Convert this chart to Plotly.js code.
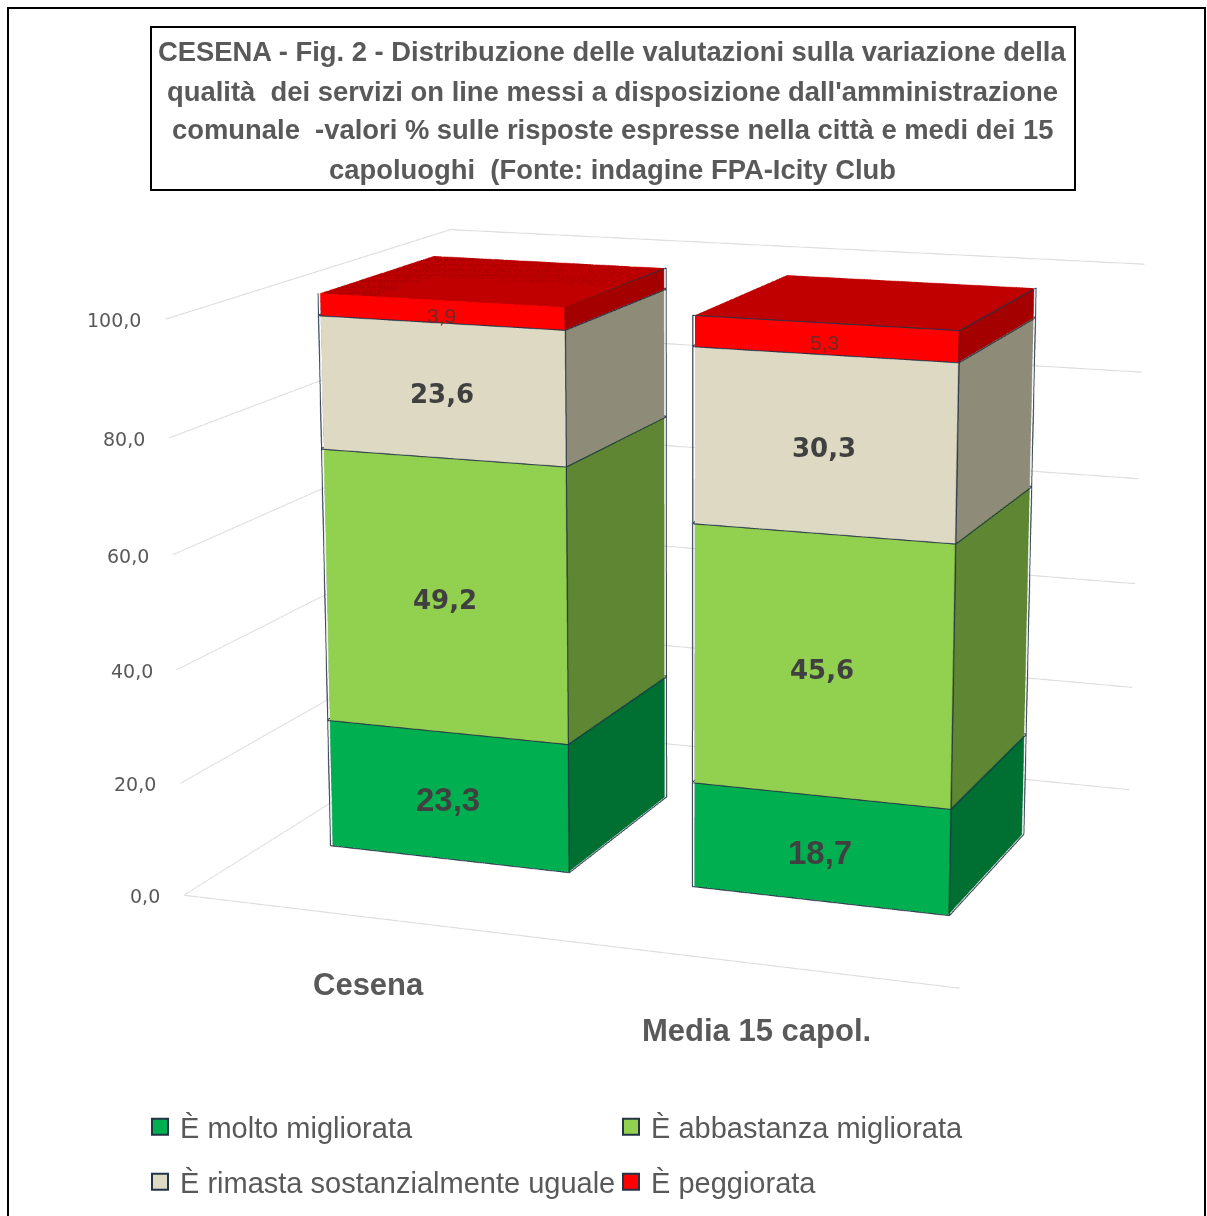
<!DOCTYPE html>
<html>
<head>
<meta charset="utf-8">
<script src="https://cdn.plot.ly/plotly-3.0.1.min.js"></script>
<style>
  html, body { margin: 0; padding: 0; width: 1207px; height: 1216px; overflow: hidden; background: #ffffff; }
  /* The figure is drawn larger than the page so the 3D camera sits far away (weak perspective);
     the page shows its central part. */
  #chart { position: absolute; left: -821px; top: -930px; width: 3000px; height: 3000px; }
</style>
</head>
<body>
<div id="chart"></div>
<script>
// ---- data -------------------------------------------------------------
const categories = ['Cesena', 'Media 15 capol.'];
const seriesNames = ['È molto migliorata', 'È abbastanza migliorata', 'È rimasta sostanzialmente uguale', 'È peggiorata'];
const molto = [23.3, 18.7];
const abbastanza = [49.2, 45.6];
const uguale = [23.6, 30.3];
const peggiorata = [3.9, 5.3];
const valueTicks = [0, 20, 40, 60, 80, 100];
const titleLines = [
  'CESENA - Fig. 2 - Distribuzione delle valutazioni sulla variazione della',
  'qualità\u00a0 dei servizi on line messi a disposizione dall\'amministrazione',
  'comunale\u00a0 -valori % sulle risposte espresse nella città e medi dei 15',
  'capoluoghi\u00a0 (Fonte: indagine FPA-Icity Club'
];

// ---- styling ----------------------------------------------------------
const series = [molto, abbastanza, uguale, peggiorata];
const palette = [
  { front: '#00b050', side: '#006f32', top: '#00853c' },
  { front: '#92d050', side: '#5f8733', top: '#76a840' },
  { front: '#ddd9c3', side: '#8e8b79', top: '#b4b09d' },
  { front: '#ff0000', side: '#a50000', top: '#c00000' }
];
const SANS = 'Liberation Sans, Arial, sans-serif';
const WIDE = 'DejaVu Sans, Verdana, sans-serif';
const GREY = '#595959';
const EDGE = '#243447';

const HALF_W = 0.33;            // half bar width, in category units
const DEPTH_RANGE = [0.2, 1.8]; // floor depth
const DEPTH_MID = 1.0;          // bars sit in the middle of the floor depth
const HALF_D = 0.33;            // half bar depth

// figure geometry (the page is a window onto a larger figure)
const FIG_W = 3000, FIG_H = 3000, OFF_X = 821, OFF_Y = 930;
const px = X => (X + OFF_X) / FIG_W;
const py = Y => 1 - (Y + OFF_Y) / FIG_H;

function baseOf(si, ci) {
  let b = 0;
  for (let k = 0; k < si; k++) b += series[k][ci];
  return b;
}

// one mesh3d per series: a box for each category, with per-face colours
function seriesMesh(si) {
  const xs = [], ys = [], zs = [], I = [], J = [], K = [], fc = [];
  const pal = palette[si];
  categories.forEach((c, ci) => {
    const z0 = baseOf(si, ci), z1 = z0 + series[si][ci];
    const x0 = ci - HALF_W, x1 = ci + HALF_W, y0 = DEPTH_MID - HALF_D, y1 = DEPTH_MID + HALF_D;
    const o = xs.length;
    [[x0, y0, z0], [x1, y0, z0], [x1, y1, z0], [x0, y1, z0],
     [x0, y0, z1], [x1, y0, z1], [x1, y1, z1], [x0, y1, z1]].forEach(p => {
      xs.push(p[0]); ys.push(p[1]); zs.push(p[2]);
    });
    const faces = [
      [0, 1, 5, 'front'], [0, 5, 4, 'front'],
      [1, 2, 6, 'side'], [1, 6, 5, 'side'],
      [4, 5, 6, 'top'], [4, 6, 7, 'top'],
      [0, 3, 7, 'side'], [0, 7, 4, 'side'],
      [3, 2, 6, 'side'], [3, 6, 7, 'side'],
      [0, 1, 2, 'top'], [0, 2, 3, 'top']
    ];
    faces.forEach(f => { I.push(o + f[0]); J.push(o + f[1]); K.push(o + f[2]); fc.push(pal[f[3]]); });
  });
  return {
    type: 'mesh3d', x: xs, y: ys, z: zs, i: I, j: J, k: K,
    facecolor: fc, flatshading: true,
    lighting: { ambient: 1, diffuse: 0, specular: 0, roughness: 1, fresnel: 0 },
    hoverinfo: 'skip', showlegend: false, showscale: false, name: seriesNames[si]
  };
}

// dark outline of every visible box edge
function edgeTrace() {
  const xs = [], ys = [], zs = [];
  const ex = 0.004, ey = 0.004, ez = 0.15;
  const path = pts => {
    pts.forEach(p => { xs.push(p[0]); ys.push(p[1]); zs.push(p[2]); });
    xs.push(null); ys.push(null); zs.push(null);
  };
  series.forEach((vals, si) => {
    categories.forEach((c, ci) => {
      const z0 = baseOf(si, ci), z1 = z0 + vals[ci];
      const x0 = ci - HALF_W - ex, x1 = ci + HALF_W + ex;
      const y0 = DEPTH_MID - HALF_D - ey, y1 = DEPTH_MID + HALF_D + ey;
      path([[x0, y0, z0], [x1, y0, z0], [x1, y0, z1], [x0, y0, z1], [x0, y0, z0]]);
      path([[x1, y0, z0], [x1, y1, z0], [x1, y1, z1], [x1, y0, z1]]);
      path([[x0, y0, z1 + ez], [x0, y1, z1 + ez], [x1, y1, z1 + ez]]);
    });
  });
  return {
    type: 'scatter3d', mode: 'lines', x: xs, y: ys, z: zs, connectgaps: false,
    line: { color: EDGE, width: 2 }, hoverinfo: 'skip', showlegend: false
  };
}

const fmt = v => v.toFixed(1).replace('.', ',');

// value labels on the front face of every block
const labelFonts = [
  { family: SANS, size: 33, color: '#404040', weight: 'bold' },
  { family: WIDE, size: 26, color: '#404040', weight: 'bold' },
  { family: WIDE, size: 26, color: '#404040', weight: 'bold' },
  { family: SANS, size: 21, color: '#702828' }
];
const sceneLabels = [];
series.forEach((vals, si) => {
  vals.forEach((v, ci) => {
    sceneLabels.push({
      x: ci, y: DEPTH_MID - HALF_D, z: baseOf(si, ci) + v / 2,
      text: fmt(v), showarrow: false, xanchor: 'center', yanchor: 'middle', yshift: -4,
      font: labelFonts[si]
    });
  });
});

// value-axis labels along the front-left edge of the floor box
valueTicks.forEach(t => {
  sceneLabels.push({
    x: -0.5, y: DEPTH_RANGE[0], z: t, text: fmt(t), showarrow: false,
    xanchor: 'right', yanchor: 'middle', xshift: -22, yshift: -1,
    font: { family: WIDE, size: 19, color: GREY }
  });
});

// category names below the front edge of the floor
categories.forEach((c, ci) => {
  sceneLabels.push({
    x: ci, y: DEPTH_RANGE[0], z: 0, text: c, showarrow: false,
    xanchor: 'center', yanchor: 'middle', xshift: 2, yshift: -67,
    font: { family: SANS, size: 31, color: GREY, weight: 'bold' }
  });
});

// legend entries (two rows of two)
const legendTraces = seriesNames.map((n, si) => ({
  type: 'scatter', mode: 'markers', x: [null], y: [null], name: n,
  legend: si < 2 ? 'legend' : 'legend2',
  marker: { symbol: 'square', size: 17, color: palette[si].front, line: { color: EDGE, width: 2 } },
  hoverinfo: 'skip'
}));

const traces = [0, 1, 2, 3].map(seriesMesh).concat([edgeTrace()]).concat(legendTraces);

const titleAnnotations = titleLines.map((t, k) => ({
  xref: 'paper', yref: 'paper', x: px(612), y: py(52 + 39 * k),
  xanchor: 'center', yanchor: 'middle', showarrow: false, text: t,
  font: { family: SANS, size: 27.4, color: GREY, weight: 'bold' }
}));

const legendFont = { family: SANS, size: 29, color: GREY };

const layout = {
  width: FIG_W, height: FIG_H,
  margin: { l: 0, r: 0, t: 0, b: 0 },
  paper_bgcolor: '#ffffff', plot_bgcolor: 'rgba(0,0,0,0)',
  separators: ',.',
  hovermode: false,
  xaxis: { visible: false }, yaxis: { visible: false },
  scene: {
    domain: { x: [0, 1], y: [0, 1] },
    bgcolor: 'rgba(0,0,0,0)',
    dragmode: false,
    aspectmode: 'manual',
    aspectratio: { x: 0.935, y: 0.8, z: 0.677 },
    camera: {
      eye: { x: 1.45, y: -3.98, z: 0.98 },
      center: { x: 0, y: 0, z: 0 },
      up: { x: 0, y: 0, z: 1 },
      projection: { type: 'perspective' }
    },
    xaxis: {
      range: [-0.5, 1.5], tickvals: [0, 1], ticktext: categories, showticklabels: false,
      showgrid: false, zeroline: false, showline: true, linecolor: '#d9d9d9', linewidth: 2,
      ticks: '', showbackground: false, showspikes: false, title: { text: '' }
    },
    yaxis: {
      range: DEPTH_RANGE, showgrid: false, zeroline: false, showline: false, showticklabels: false,
      ticks: '', showbackground: false, showspikes: false, title: { text: '' }
    },
    zaxis: {
      range: [0, 100], tickvals: valueTicks, tickformat: '.1f', showticklabels: false,
      showgrid: true, gridcolor: '#d9d9d9', gridwidth: 2, zeroline: false, showline: false,
      ticks: '', showbackground: false, showspikes: false, title: { text: '' }
    },
    annotations: sceneLabels
  },
  annotations: titleAnnotations,
  shapes: [
    { type: 'rect', xref: 'paper', yref: 'paper', x0: px(8), x1: px(1205), y0: py(8), y1: py(1240),
      line: { color: '#000000', width: 2 }, fillcolor: 'rgba(0,0,0,0)' },
    { type: 'rect', xref: 'paper', yref: 'paper', x0: px(151), x1: px(1075), y0: py(27), y1: py(190),
      line: { color: '#000000', width: 2 }, fillcolor: 'rgba(0,0,0,0)' }
  ],
  legend: {
    orientation: 'h', x: px(140), y: py(1127), xanchor: 'left', yanchor: 'middle',
    entrywidth: 426, entrywidthmode: 'pixels', font: legendFont, bgcolor: 'rgba(0,0,0,0)'
  },
  legend2: {
    orientation: 'h', x: px(140), y: py(1182), xanchor: 'left', yanchor: 'middle',
    entrywidth: 426, entrywidthmode: 'pixels', font: legendFont, bgcolor: 'rgba(0,0,0,0)'
  }
};

Plotly.newPlot('chart', traces, layout, { displayModeBar: false, plotGlPixelRatio: 1.5 })
  .then(gd => {
    const sc = gd._fullLayout.scene && gd._fullLayout.scene._scene;
    if (sc && sc.glplot) sc.glplot.redraw();
  });
</script>
</body>
</html>
